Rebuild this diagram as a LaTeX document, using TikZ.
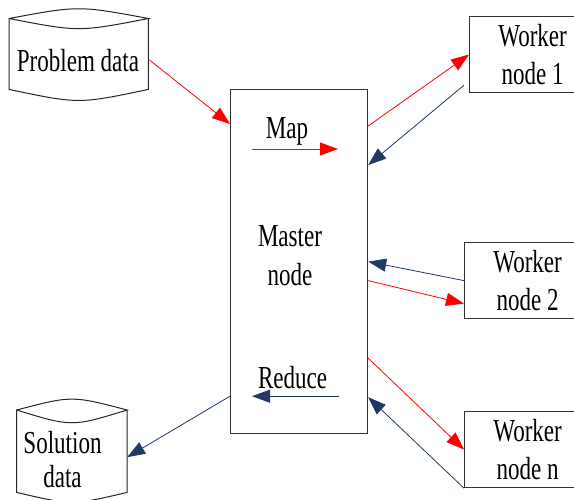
\documentclass[tikz,border=0pt]{standalone}
\usepackage{fontspec}
\setmainfont[FakeStretch=0.72]{Liberation Serif}
\usetikzlibrary{arrows.meta,calc}
\definecolor{flowred}{RGB}{255,0,0}
\definecolor{flownavy}{RGB}{31,56,100}

\begin{document}
\begin{tikzpicture}[x=1pt,y=-1pt,
  lbl/.style={font=\fontsize{32}{38.5}\selectfont, align=center, inner sep=0pt},
  box/.style={draw=black!80, line width=1.2pt, inner sep=0pt, anchor=north west},
  worker/.style={box, minimum width=126pt, minimum height=76pt,
    font=\fontsize{32}{38.5}\selectfont, align=center},
  drum/.style={draw=black!85, line width=1pt},
  body/.style={inner sep=0pt, anchor=north west},
  fwd/.style={draw=flowred, line width=0.8pt, -{Triangle[length=18pt,width=13pt]}},
  back/.style={draw=flownavy, line width=0.8pt, -{Triangle[length=18pt,width=13pt]}}]

\useasboundingbox (0,0) rectangle (574,499);
\clip (0,0) rectangle (574,499);

% master node
\node[box, minimum width=137pt, minimum height=344pt] (master) at (230,89) {};
\node[lbl, anchor=base] (mastertext) at (290,285) {Master\\node};

% worker nodes (their right sides run off the page)
\node[worker] (w1) at (469,16) {Worker\\node 1};
\node[worker] (w2) at (464,242) {Worker\\node 2};
\node[worker] (wn) at (464,411) {Worker\\node n};

% data stores
\node[body, minimum width=139pt, minimum height=70.5pt] (pd) at (9,18.5) {};
\draw[drum] (pd.north west) .. controls ($(pd.north)+(0,-13)$) .. (pd.north east)
  .. controls ($(pd.north)+(0,13.5)$) .. (pd.north west) -- (pd.south west)
  .. controls ($(pd.south)+(0,14.7)$) .. (pd.south east) -- (pd.north east);
\node[lbl, anchor=base] (pdtext) at (78,71) {Problem data};

\node[body, minimum width=110pt, minimum height=82pt] (sd) at (16.7,410) {};
\draw[drum] (sd.north west) .. controls ($(sd.north)+(0,-14.5)$) .. (sd.north east)
  .. controls ($(sd.north)+(0,17)$) .. (sd.north west) -- (sd.south west)
  .. controls ($(sd.south)+(0,13)$) .. (sd.south east) -- (sd.north east);
\node[lbl, anchor=base, font=\fontsize{32}{34}\selectfont] (sdtext) at (62.5,487) {Solution\\data};

% map / reduce labels inside the master
\node[lbl, anchor=base] (maptext) at (287,138.3) {Map};
\coordinate (mapA) at ($(master.north west)+(22,60)$);
\coordinate (mapB) at ($(master.north west)+(108,60)$);
\draw[fwd] (mapA) -- (mapB);

\node[lbl, anchor=base] (redtext) at (292.6,388.3) {Reduce};
\coordinate (redA) at ($(master.south west)+(109,-38)$);
\coordinate (redB) at ($(master.south west)+(22,-38)$);
\draw[back] (redA) -- (redB);

% data flow
\draw[fwd] ($(pd.east)+(1,6)$) -- ($(master.north west)+(0,35)$);
\draw[fwd] ($(master.north east)+(0,37)$) -- (w1.west);
\draw[back] ($(w1.south west)+(-5,-8)$) -- ($(master.north east)+(0,76)$);
\draw[back] (w2.west) -- (master.east);
\draw[fwd] ($(master.east)+(0,19)$) -- ($(w2.west)+(0,23)$);
\draw[fwd] ($(master.south east)+(0,-76)$) -- (wn.west);
\draw[back] (wn.south west) -- ($(master.south east)+(0,-37)$);
\draw[back] ($(master.south west)+(0,-38)$) -- ($(sd.east)+(0,6)$);
\end{tikzpicture}
\end{document}
